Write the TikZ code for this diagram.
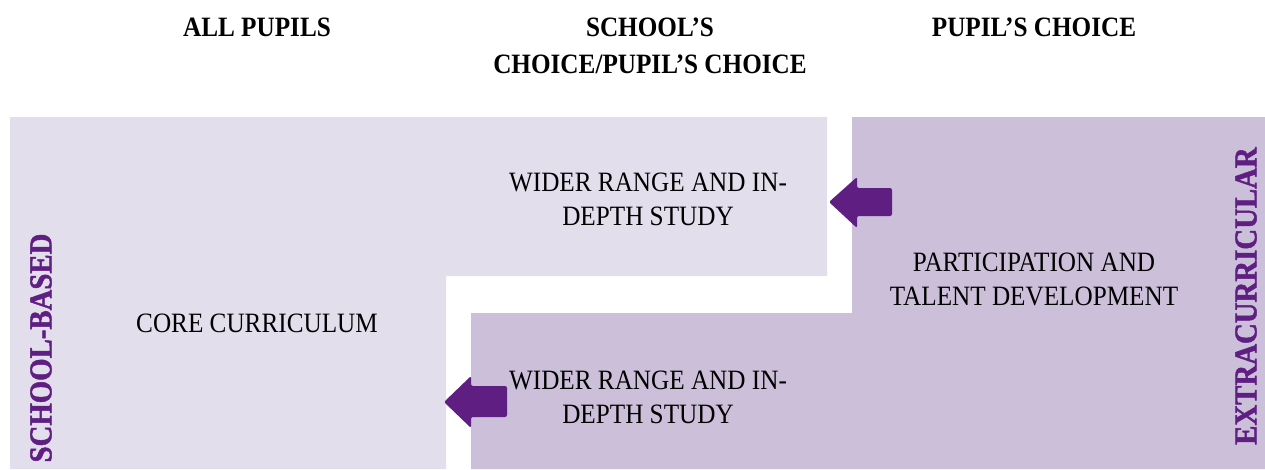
\documentclass[tikz,border=0pt]{standalone}
\usepackage{fontspec}
\setmainfont{Liberation Serif}[FakeStretch=0.9]
\definecolor{lightlilac}{HTML}{E3DEEB}
\definecolor{darklilac}{HTML}{CCBFD9}
\definecolor{deeppurple}{HTML}{5F1F82}
\begin{document}
\begin{tikzpicture}[x=0.75pt,y=-0.75pt,
  head/.style={font=\fontsize{21}{27.75}\selectfont\bfseries, align=center},
  body/.style={font=\fontsize{21}{25.5}\selectfont, align=center},
  side/.style={font=\fontsize{24}{30}\selectfont\bfseries\addfontfeature{FakeBold=1.5}, text=deeppurple, rotate=90},
  blockarrow/.style={fill=deeppurple, rounded corners=1.5pt}]
\useasboundingbox (0,0) rectangle (1265,469);
% the two areas
\fill[lightlilac] (10,117) -- (827,117) -- (827,276) -- (446,276) -- (446,469) -- (10,469) -- cycle;
\fill[darklilac] (852,117) -- (1265,117) -- (1265,469) -- (471,469) -- (471,313) -- (852,313) -- cycle;
% arrows
\fill[blockarrow] (829,202) -- (857,177) -- (857,188) -- (892,188) -- (892,216) -- (857,216) -- (857,228) -- cycle;
\fill[blockarrow] (444,402) -- (471,376) -- (471,386) -- (507,386) -- (507,417) -- (471,417) -- (471,428) -- cycle;
% column heads
\node[head] (allpupils) at (257,27) {ALL PUPILS};
\node[head] (schoolchoice) at (650,45.5) {SCHOOL’S\\CHOICE/PUPIL’S CHOICE};
\node[head] (pupilchoice) at (1034,27) {PUPIL’S CHOICE};
% texts in the areas
\node[body] (upperwider) at (648,199) {WIDER RANGE AND IN-\\DEPTH STUDY};
\node[body] (core) at (257,323) {CORE CURRICULUM};
\node[body] (participation) at (1034,279) {PARTICIPATION AND\\TALENT DEVELOPMENT};
\node[body] (lowerwider) at (648,397) {WIDER RANGE AND IN-\\DEPTH STUDY};
\node[side] (schoolbased) at (41,348) {SCHOOL-BASED};
\node[side] (extra) at (1246,296) {EXTRACURRICULAR};
\end{tikzpicture}
\end{document}
